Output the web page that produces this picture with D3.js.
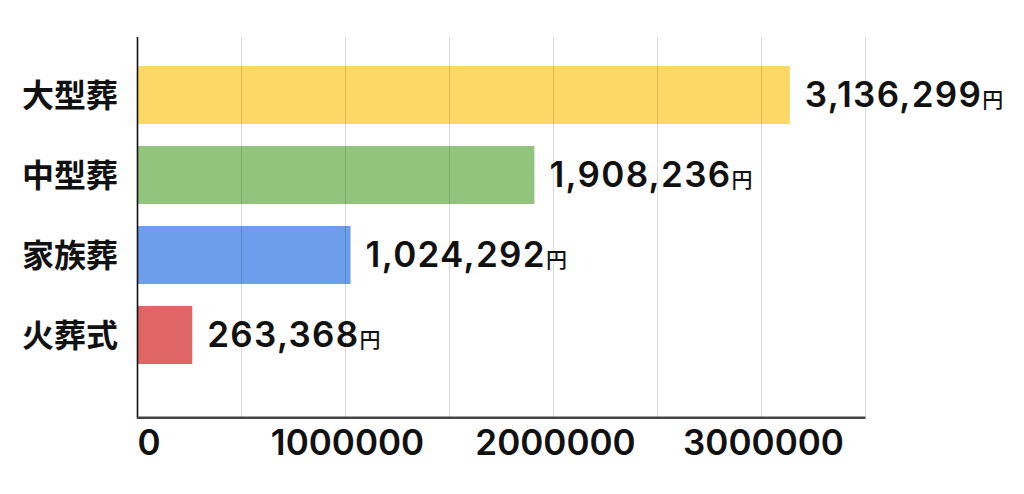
<!DOCTYPE html>
<html><head><meta charset="utf-8">
<script src="https://cdn.jsdelivr.net/npm/d3@7"></script>
<style>
html,body{margin:0;padding:0;background:#fff;}
svg{display:block;font-family:"Noto Sans CJK JP","Noto Sans",sans-serif;}
.num{font-family:Inter,"Noto Sans",sans-serif;}
.cjk{font-family:"Noto Sans CJK JP",sans-serif;}
</style></head>
<body><svg id="c" width="1024" height="494"></svg>
<script>
const categories = ["大型葬","中型葬","家族葬","火葬式"];
const values = [3136299, 1908236, 1024292, 263368];
const colors = ["#fed866","#93c47d","#6d9eeb","#e06666"];
const tickValues = [0, 1000000, 2000000, 3000000];
const gridValues = [500000,1000000,1500000,2000000,2500000,3000000,3500000];
const unit = "円";

const svg = d3.select("#c");
const x = d3.scaleLinear().domain([0, 3500000]).range([137.5, 865.5]);
const y = d3.scaleBand().domain(categories).range([55, 375]).paddingInner(0.275).paddingOuter(0.1375);

// bars
svg.append("g").selectAll("rect").data(values).join("rect")
  .attr("x", x(0)).attr("y", (d,i)=>y(categories[i]))
  .attr("width", d=>x(d)-x(0)).attr("height", y.bandwidth())
  .attr("fill", (d,i)=>colors[i]);

// gridlines on top
svg.append("g").selectAll("line").data(gridValues).join("line")
  .attr("x1", d=>x(d)).attr("x2", d=>x(d)).attr("y1", 37).attr("y2", 417)
  .attr("stroke", "rgba(0,0,0,0.14)").attr("stroke-width", 1);

// axes lines
svg.append("line").attr("x1", x(0)).attr("x2", x(0)).attr("y1", 37).attr("y2", 417)
  .attr("stroke", "#111").attr("stroke-width", 1.6);
svg.append("line").attr("x1", x(0)-0.8).attr("x2", x(3500000)).attr("y1", 417.8).attr("y2", 417.8)
  .attr("stroke", "#444").attr("stroke-width", 2.4);

// category labels
svg.append("g").selectAll("text").data(categories).join("text")
  .attr("x", 118).attr("y", d=>y(d)+y.bandwidth()/2)
  .attr("dy", "0.36em").attr("text-anchor", "end")
  .attr("font-size", 32).attr("font-weight", 700).attr("fill", "#111")
  .text(d=>d);

// value labels
const fmt = d3.format(",");
const vl = svg.append("g").selectAll("text").data(values).join("text")
  .attr("x", d=>x(d)+15).attr("y", (d,i)=>y(categories[i])+y.bandwidth()/2+12)
  .attr("font-size", 35).attr("font-weight", 600).attr("fill", "#111");
vl.append("tspan").attr("class","num").attr("letter-spacing", 1.3).text(d=>fmt(d));
vl.append("tspan").attr("class","cjk").attr("font-size", 21).attr("font-weight", 500).text(unit);

// x tick labels
svg.append("g").selectAll("text").data(tickValues).join("text")
  .attr("class","num")
  .attr("x", d=>d===0 ? x(0) : x(d)+2).attr("y", 455)
  .attr("text-anchor", d=>d===0 ? "start" : "middle")
  .attr("font-size", 35).attr("font-weight", 600).attr("fill", "#111")
  .text(d=>d3.format("d")(d));
</script></body></html>
